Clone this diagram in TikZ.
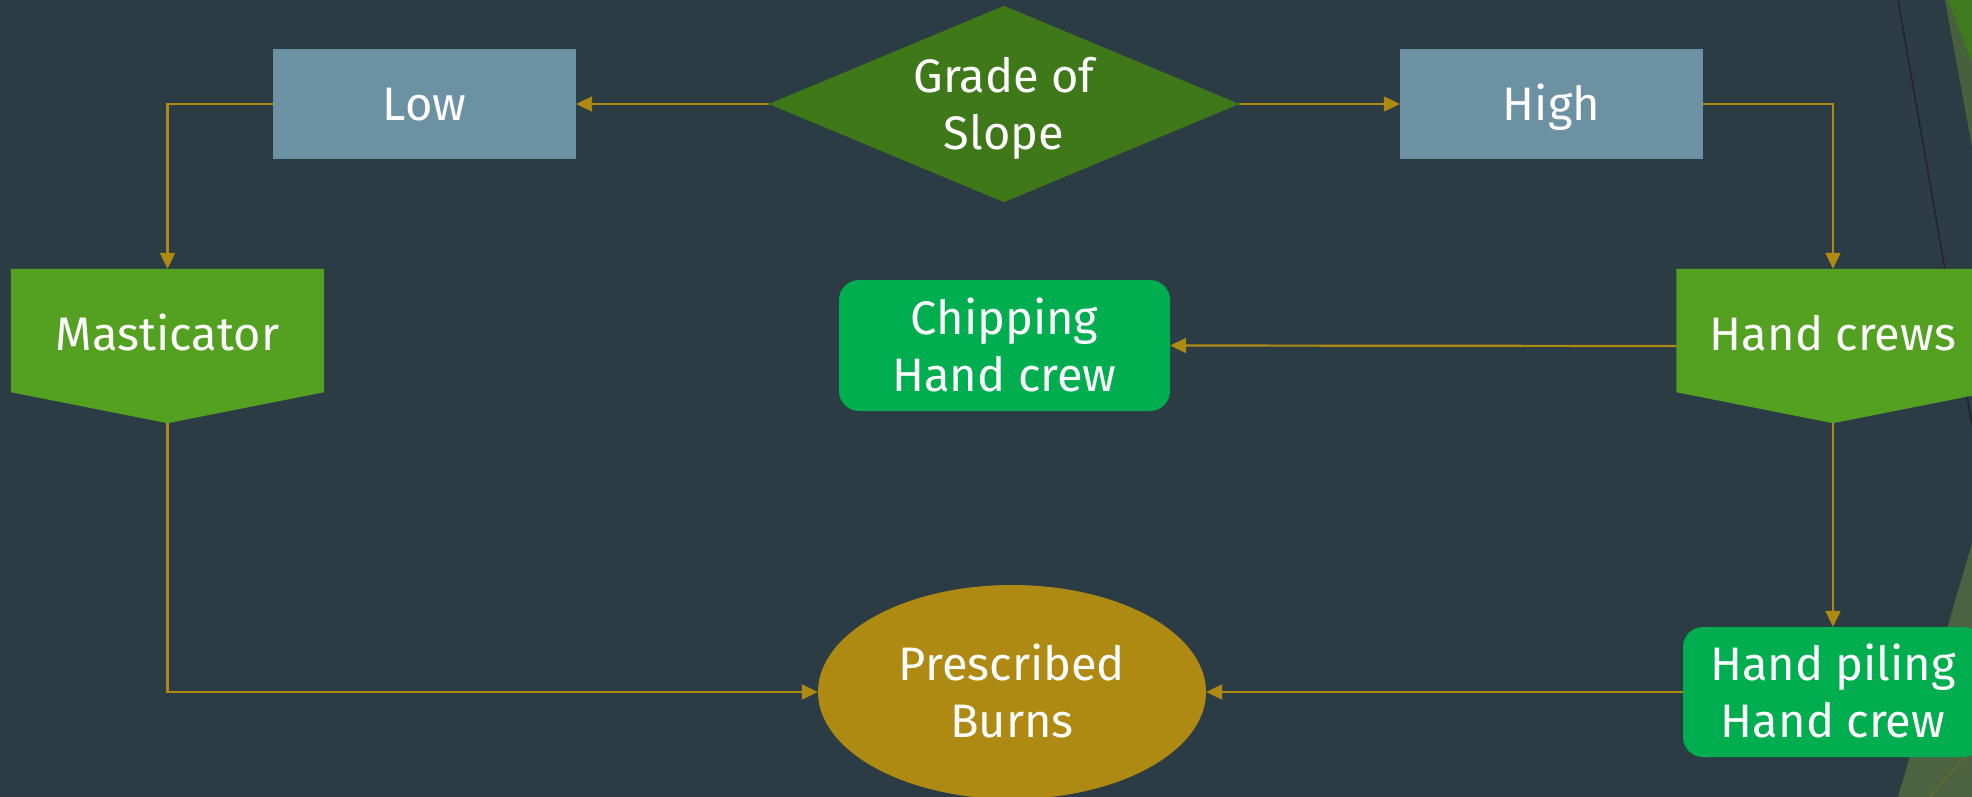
\documentclass[tikz,border=0pt]{standalone}
\usepackage{fontspec}
\setmainfont{Fira Sans}
\usetikzlibrary{arrows.meta,shapes.geometric}
\definecolor{bgc}{HTML}{2C3C44}
\definecolor{boxblue}{HTML}{6C91A2}
\definecolor{diag}{HTML}{3F7819}
\definecolor{pentg}{HTML}{54A021}
\definecolor{greenbox}{HTML}{00AE4F}
\definecolor{gold}{HTML}{AF8A13}
\definecolor{muted}{HTML}{47613E}
\definecolor{dgreen}{HTML}{3F7A1F}
\definecolor{olive}{HTML}{4B6340}
\definecolor{darkline}{HTML}{1F2428}
\definecolor{oline}{HTML}{6A6A28}
\pgfdeclarelayer{back}
\pgfdeclarelayer{shapes}
\pgfsetlayers{back,shapes,main}
\begin{document}
\begin{tikzpicture}[x=1pt,y=-1pt,
  lbl/.style={text=white,font=\fontsize{47}{57}\selectfont,align=center,inner sep=0pt},
  oneline/.style={lbl,text height=34pt,text depth=0pt},
  twoline/.style={lbl,text height=91pt,text depth=0pt},
  bluebox/.style={oneline,rectangle,fill=boxblue,minimum width=303pt,minimum height=109pt},
  pentnode/.style={lbl,rectangle,minimum width=313pt,minimum height=154pt,text height=34pt,text depth=26pt},
  greenround/.style={twoline,rectangle,rounded corners=20pt,fill=greenbox,minimum height=131pt},
  conn/.style={draw=gold,line width=2.2pt,-{Triangle[length=16pt,width=15pt]}},
]
\useasboundingbox (0,0) rectangle (1972,797);

% nodes
\node[bluebox] (low) at (424.5,104) {Low};
\node[bluebox] (high) at (1551.5,104) {High};
\node[twoline,rectangle,minimum width=470pt,minimum height=196pt] (grade) at (1004,104) {Grade of\\Slope};
\node[pentnode] (mast) at (167.5,346) {Masticator};
\node[pentnode] (crews) at (1833,346) {Hand crews};
\node[greenround,minimum width=331pt] (chip) at (1004.5,345.5) {Chipping\\Hand crew};
\node[greenround,minimum width=300pt,minimum height=130pt] (pile) at (1833,692) {Hand piling\\Hand crew};
\node[twoline,ellipse,fill=gold,minimum width=388pt,minimum height=214pt] (burn) at (1012,692) {Prescribed\\Burns};

% background and decoration
\begin{pgfonlayer}{back}
\fill[bgc] (0,0) rectangle (1972,797);
\fill[muted] (1945,0) -- (1972,0) -- (1972,147) -- cycle;
\fill[dgreen] (1948,0) -- (1972,0) -- (1972,63) -- cycle;
\draw[darkline,line width=1.5pt] (1898,0) -- (1972,425);
\fill[olive] (1972,543) -- (1972,797) -- (1898,797) -- cycle;
\draw[oline,line width=1.5pt] (1972,748) -- (1930,797);
\end{pgfonlayer}

% shape fills
\begin{pgfonlayer}{shapes}
\fill[diag] (grade.west) -- (grade.north) -- (grade.east) -- (grade.south) -- cycle;
\fill[pentg] (mast.north west) -- (mast.north east) -- ([yshift=31pt]mast.south east) -- (mast.south) -- ([yshift=31pt]mast.south west) -- cycle;
\fill[pentg] (crews.north west) -- (crews.north east) -- ([yshift=31pt]crews.south east) -- (crews.south) -- ([yshift=31pt]crews.south west) -- cycle;
\end{pgfonlayer}

% connectors
\draw[conn] (grade.west) -- (low.east);
\draw[conn] (grade.east) -- (high.west);
\draw[conn] (low.west) -| (mast.north);
\draw[conn] (high.east) -| (crews.north);
\draw[conn] (crews.west) -- (chip.east);
\draw[conn] (crews.south) -- (pile.north);
\draw[conn] (pile.west) -- (burn.east);
\draw[conn] (mast.south) |- (burn.west);
\end{tikzpicture}
\end{document}
